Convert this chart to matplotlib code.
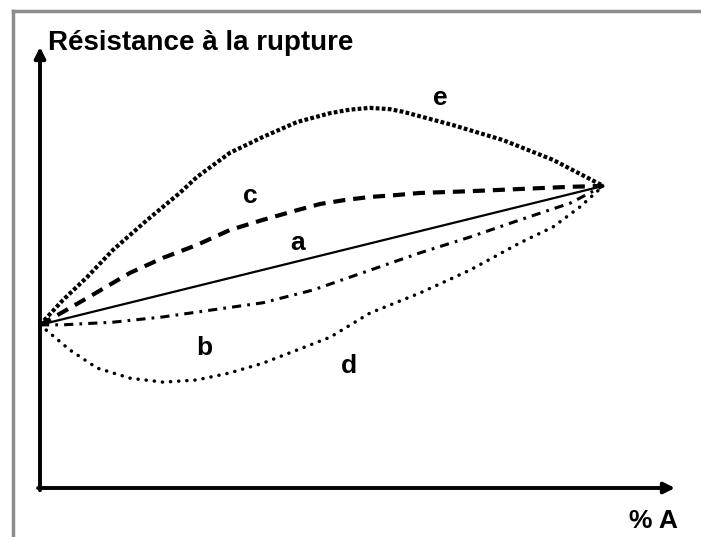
import matplotlib
matplotlib.use("Agg")
import matplotlib.pyplot as plt
from matplotlib.lines import Line2D

plt.rcParams['font.family'] = ['Liberation Sans', 'DejaVu Sans']

# courbes (x = % A, y = résistance, unités arbitraires 0-100)
x_a = [0, 88.7]
y_a = [37.0, 68.5]

x_b = [0, 3.6, 11.5, 19.4, 27.2, 35.1, 43.0, 52.0, 59.8, 67.7, 75.6, 83.5, 88.7]
y_b = [37.0, 37.0, 37.6, 38.8, 40.4, 42.0, 44.9, 49.4, 53.3, 56.9, 60.8, 64.6, 68.5]

x_c = [0, 3.6, 9.0, 14.2, 19.4, 24.7, 29.9, 35.1, 40.5, 44.1, 48.0, 52.0, 55.9, 59.8,
       67.7, 75.6, 83.5, 88.7]
y_c = [37.0, 39.9, 44.4, 48.8, 52.2, 55.1, 58.5, 60.8, 63.0, 64.4, 65.3, 66.0, 66.4, 66.9,
       67.3, 67.8, 68.3, 68.5]

x_d = [0, 4.7, 9.0, 14.2, 19.4, 24.7, 29.9, 35.1, 40.5, 45.7, 52.0, 59.8, 67.7, 75.6, 80.8, 85.0, 88.7]
y_d = [37.0, 31.3, 27.2, 24.9, 24.0, 24.5, 26.1, 28.3, 31.3, 34.2, 39.7, 44.2, 49.4, 55.6, 59.2, 63.7, 68.5]

x_e = [0, 3.6, 7.4, 11.5, 16.9, 22.0, 24.7, 29.9, 35.1, 40.5, 45.7, 48.8, 52.0, 55.1, 57.2,
       65.0, 72.9, 80.8, 88.7]
y_e = [37.0, 42.6, 47.8, 54.0, 60.8, 66.9, 70.5, 76.0, 79.6, 83.0, 85.0, 85.8, 86.2, 85.9, 85.3,
       82.3, 78.9, 74.4, 68.5]

labels = ['a', 'b', 'c', 'd', 'e']
label_pos = [(40.6, 54.0), (25.8, 30.2), (33.1, 64.6), (48.7, 26.1), (63.0, 86.8)]

fig = plt.figure(figsize=(7.01, 5.37), dpi=100)
ax = fig.add_axes([40 / 701, 49 / 537, 635 / 701, 441 / 537])
ax.set_xlim(0, 100)
ax.set_ylim(0, 100)
ax.axis('off')

ax.plot(x_a, y_a, color='black', lw=1.6, clip_on=False)
ax.plot(x_b, y_b, color='black', lw=2.2, linestyle=(0, (3, 2, 0.9, 2)), clip_on=False)
ax.plot(x_c, y_c, color='black', lw=3.0, linestyle=(0, (2.9, 1.9)), clip_on=False)
ax.plot(x_d, y_d, color='black', lw=2.5, linestyle=(0, (0.05, 2.3)),
        dash_capstyle='round', clip_on=False)
ax.plot(x_e, y_e, color='black', lw=3.0, linestyle=(0, (0.9, 0.55)), clip_on=False)

for lab, (lx, ly) in zip(labels, label_pos):
    ax.text(lx, ly, lab, fontsize=19, fontweight='bold', ha='center', va='baseline')

# axes avec flèches
arrow = dict(arrowstyle='-|>', lw=2.8, color='black', mutation_scale=16,
             shrinkA=0, shrinkB=0)
ax.annotate('', xy=(0, 100), xytext=(0, -0.5), arrowprops=arrow, annotation_clip=False)
ax.annotate('', xy=(100, 0), xytext=(-0.3, 0), arrowprops=arrow, annotation_clip=False)

fig.text(48 / 701, 1 - 50 / 537, 'Résistance à la rupture', fontsize=20,
         fontweight='bold', ha='left', va='baseline')
fig.text(678 / 701, 1 - 528 / 537, '% A', fontsize=19, fontweight='bold',
         ha='right', va='baseline')

# cadre gris (haut et gauche)
bx = 13 / 701
by = 1 - 11 / 537
fig.add_artist(Line2D([bx, bx], [0, by], transform=fig.transFigure, color='#8c8c8c', lw=2.5))
fig.add_artist(Line2D([bx, 1], [by, by], transform=fig.transFigure, color='#8c8c8c', lw=2.5))

fig.savefig('out.png', dpi=100)
